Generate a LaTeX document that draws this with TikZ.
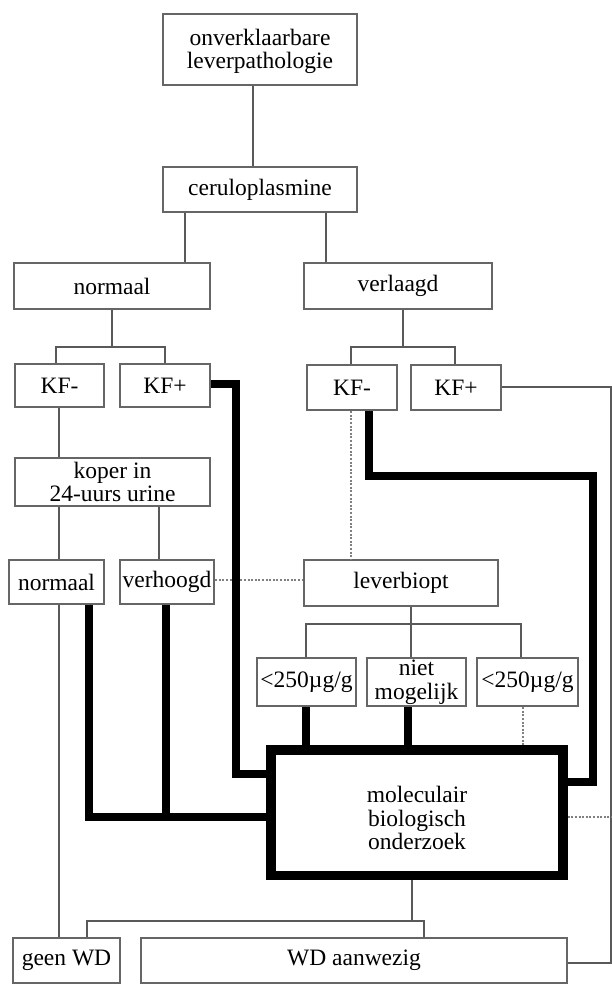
\documentclass[tikz,border=0pt]{standalone}
\usepackage{fontspec}
\setmainfont{Liberation Serif}
\begin{document}
\begin{tikzpicture}[x=1pt,y=-1pt,
  box/.style={draw=black!60, line width=2.2pt, fill=white, inner sep=0pt, align=center,
    font=\fontsize{23.5}{23.5}\selectfont},
  bigbox/.style={box, draw=black, line width=9.5pt},
  thinline/.style={draw=black!65, line width=2pt},
  thickline/.style={draw=black, line width=8pt, line join=miter},
  dotline/.style={draw=black!50, line width=1.8pt, dash pattern=on 2pt off 1.6pt}]
\useasboundingbox (0,0) rectangle (612,990);
% column / row helpers
\foreach \c in {56,59,87,89,112,159,165,166,185,236,253,306,326,351,369,403,408,411,412,424,455,521,523,593,611}
  {\coordinate (c\c) at (\c,0);}
\foreach \r in {347,384,387,476,580,624,774,782,817,921,963}
  {\coordinate (r\r) at (0,\r);}
% boxes
\node[box, minimum width=194pt, minimum height=71pt] (top) at (260,49.5) {\raisebox{-3pt}[\height][\depth]{\begin{tabular}{@{}c@{}}onverklaarbare\\leverpathologie\end{tabular}}};
\node[box, minimum width=194pt, minimum height=45pt] (ceru) at (260,189.5) {ceruloplasmine};
\node[box, minimum width=196pt, minimum height=46pt] (normaal) at (112,286) {normaal};
\node[box, minimum width=188pt, minimum height=46pt] (verlaagd) at (398,286) {verlaagd};
\node[box, minimum width=89pt, minimum height=43pt] (kfl1) at (59.5,385.5) {KF-};
\node[box, minimum width=90pt, minimum height=43pt] (kfp1) at (165,385.5) {KF+};
\node[box, minimum width=90pt, minimum height=45pt] (kfl2) at (352,387.5) {KF-};
\node[box, minimum width=90pt, minimum height=45pt] (kfp2) at (456,387.5) {KF+};
\node[box, minimum width=195pt, minimum height=48pt] (koper) at (112.5,482) {koper in\\24-uurs urine};
\node[box, minimum width=95pt, minimum height=44pt] (norm2) at (56.5,582) {normaal};
\node[box, minimum width=94pt, minimum height=44pt] (verh) at (167,582) {verhoogd};
\node[box, minimum width=194pt, minimum height=46pt] (lever) at (401,583) {leverbiopt};
\node[box, minimum width=99pt, minimum height=48pt] (b1) at (306.5,682) {<250µg/g};
\node[box, minimum width=99pt, minimum height=48pt] (b2) at (416.5,682) {niet\\mogelijk};
\node[box, minimum width=101pt, minimum height=48pt] (b3) at (527.5,682) {<250µg/g};
\node[bigbox, minimum width=292pt, minimum height=125.5pt] (mol) at (417,812.75) {\raisebox{-9pt}[\height][\depth]{\begin{tabular}{@{}c@{}}moleculair\\biologisch\\onderzoek\end{tabular}}};
\node[box, minimum width=107pt, minimum height=45pt] (geen) at (66.5,960.5) {geen WD};
\node[box, minimum width=426pt, minimum height=45pt] (wd) at (354,960.5) {WD aanwezig};
% thin connectors
\draw[thinline] (top.south -| c253) -- (ceru.north -| c253);
\draw[thinline] (ceru.south -| c185) -- (normaal.north -| c185);
\draw[thinline] (ceru.south -| c326) -- (verlaagd.north -| c326);
\draw[thinline] (normaal.south -| c112) -- (c112 |- r347);
\draw[thinline] (kfl1.north -| c56) |- (r347 -| c165) -- (kfp1.north -| c165);
\draw[thinline] (verlaagd.south -| c403) -- (c403 |- r347);
\draw[thinline] (kfl2.north -| c351) |- (r347 -| c455) -- (kfp2.north -| c455);
\draw[thinline] (kfl1.south -| c59) -- (koper.north -| c59);
\draw[thinline] (koper.south -| c59) -- (norm2.north -| c59);
\draw[thinline] (koper.south -| c159) -- (verh.north -| c159);
\draw[thinline] (lever.south -| c411) -- (b2.north -| c411);
\draw[thinline] (b1.north -| c306) |- (r624 -| c521) -- (b3.north -| c521);
\draw[thinline] (norm2.south -| c59) -- (geen.north -| c59);
\draw[thinline] (mol.south -| c412) -- (c412 |- r921);
\draw[thinline] (geen.north -| c87) |- (r921 -| c424) -- (wd.north -| c424);
\draw[thinline] (kfp2.east |- r387) -| (c611 |- r963) -- (wd.east |- r963);
% dotted connectors
\draw[dotline] (kfl2.south -| c351) -- (lever.north -| c351);
\draw[dotline] (verh.east |- r580) -- (lever.west |- r580);
\draw[dotline] (b3.south -| c523) -- (mol.north -| c523);
\draw[dotline] (mol.east |- r817) -- (c611 |- r817);
% thick connectors
\draw[thickline] (kfp1.east |- r384) -| (c236 |- r774) -- (mol.west |- r774);
\draw[thickline] (kfl2.south -| c369) |- (r476 -| c593) |- (mol.east |- r782);
\draw[thickline] (b1.south -| c306) -- (mol.north -| c306);
\draw[thickline] (b2.south -| c408) -- (mol.north -| c408);
\draw[thickline] (norm2.south -| c89) |- (mol.west |- r817);
\draw[thickline] (verh.south -| c166) -- (c166 |- r817);
\end{tikzpicture}
\end{document}
